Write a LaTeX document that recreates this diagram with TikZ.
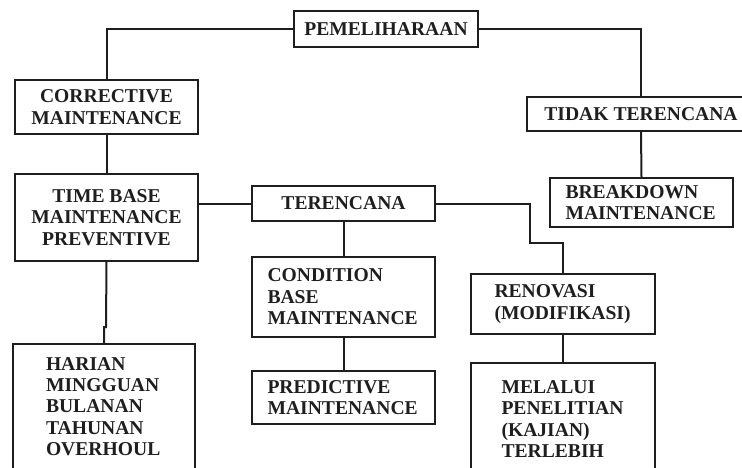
\documentclass[tikz,border=0pt]{standalone}
\usepackage{fontspec}
\setmainfont{Liberation Serif}
\definecolor{ink}{HTML}{1E1E1E}
\newcommand{\boxfont}{\fontsize{19.6}{21.4}\selectfont\bfseries}
\tikzset{
  box/.style={draw=ink, line width=2pt, inner sep=0pt, anchor=north west, font=\boxfont, text=ink},
  cbox/.style={box, align=center},
  lbox/.style={box, align=left},
  link/.style={draw=ink, line width=2pt}
}
\begin{document}
\begin{tikzpicture}[x=1pt, y=-1pt]
  \useasboundingbox (0,0) rectangle (742,468);

  % the boxes
  \node[cbox, minimum width=184pt, minimum height=36pt] (pem) at (293,10) {PEMELIHARAAN};
  \node[cbox, minimum width=183pt, minimum height=54pt] (cor) at (14,79) {CORRECTIVE\\MAINTENANCE};
  \node[cbox, minimum width=228pt, minimum height=34pt] (tdk) at (526,96) {TIDAK TERENCANA};
  \node[cbox, minimum width=183pt, minimum height=87pt] (tbm) at (14,173) {TIME BASE\\MAINTENANCE\\PREVENTIVE};
  \node[cbox, minimum width=183pt, minimum height=35pt] (ter) at (251,185) {TERENCANA};
  \node[lbox, minimum width=183pt, minimum height=49pt, text width=152pt] (brk) at (549,177) {BREAKDOWN\\MAINTENANCE};
  \node[lbox, minimum width=183pt, minimum height=80pt, text width=152pt] (cbm) at (251,256) {CONDITION\\BASE\\MAINTENANCE};
  \node[lbox, minimum width=183pt, minimum height=53pt, text width=152pt] (pdm) at (251,370) {PREDICTIVE\\MAINTENANCE};
  \node[lbox, minimum width=184pt, minimum height=60pt, text width=137pt] (ren) at (470,273) {RENOVASI\\(MODIFIKASI)};
  \node[lbox, minimum width=184pt, minimum height=112pt, text width=123pt] (mel) at (470,362) {MELALUI\\PENELITIAN\\(KAJIAN)\\TERLEBIH};
  \node[lbox, minimum width=182pt, minimum height=125pt, text width=116pt] (har) at (12,343) {HARIAN\\MINGGUAN\\BULANAN\\TAHUNAN\\OVERHOUL};

  % bend points
  \coordinate (bend) at (530,243);
  \coordinate (jog) at (106,327);

  % the connectors
  \draw[link] (pem.west) -| (cor.north);
  \draw[link] (pem.east) -| (tdk.north);
  \draw[link] (cor.south) -- (tbm.north);
  \draw[link] (tdk.south) -- (brk.north);
  \draw[link] (ter.west) -- (ter.west -| tbm.east);
  \draw[link] (ter.south) -- (cbm.north);
  \draw[link] (cbm.south) -- (pdm.north);
  \draw[link] (ter.east) -| (bend) -| (ren.north);
  \draw[link] (ren.south) -- (mel.north);
  \draw[link] (tbm.south) -- (jog) -| (har.north);
\end{tikzpicture}
\end{document}
